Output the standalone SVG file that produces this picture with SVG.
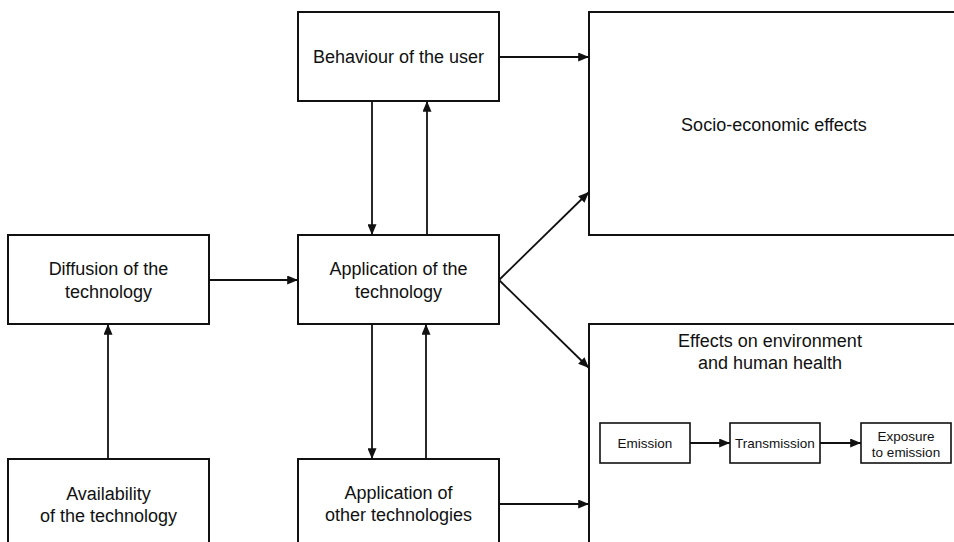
<svg xmlns="http://www.w3.org/2000/svg" width="954" height="542" viewBox="0 0 954 542">
<defs>
<style>
.box{fill:#fff;stroke:#111;stroke-width:2}
.ibox{fill:#fff;stroke:#111;stroke-width:1.6}
.t{font-family:"Liberation Sans",Arial,sans-serif;font-size:18px;fill:#111;text-anchor:middle}
.s{font-family:"Liberation Sans",Arial,sans-serif;font-size:13.5px;fill:#111;text-anchor:middle}
.c{stroke:#111;stroke-width:1.8;fill:none;marker-end:url(#ah)}
</style>
<marker id="ah" viewBox="0 0 12 10" refX="12" refY="5" markerWidth="6" markerHeight="5" markerUnits="strokeWidth" orient="auto">
<path d="M0,0 L12,5 L0,10 z" fill="#111"/>
</marker>
</defs>
<rect width="954" height="542" fill="#fff"/>
<g id="behaviour"><rect class="box" x="298" y="12" width="201" height="89"/><text class="t" x="398.5" y="63">Behaviour of the user</text></g>
<g id="socio"><rect class="box" x="589" y="12" width="380" height="223"/><text class="t" x="774" y="131">Socio-economic effects</text></g>
<g id="diffusion"><rect class="box" x="8" y="235" width="201" height="89"/><text class="t" x="108.5" y="275">Diffusion of the</text><text class="t" x="108.5" y="298">technology</text></g>
<g id="application"><rect class="box" x="298" y="235" width="201" height="89"/><text class="t" x="398.5" y="275">Application of the</text><text class="t" x="398.5" y="298">technology</text></g>
<g id="availability"><rect class="box" x="8" y="459" width="201" height="100"/><text class="t" x="108.5" y="500">Availability</text><text class="t" x="108.5" y="522">of the technology</text></g>
<g id="other"><rect class="box" x="298" y="459" width="201" height="100"/><text class="t" x="398.5" y="499">Application of</text><text class="t" x="398.5" y="521">other technologies</text></g>
<g id="effects"><rect class="box" x="589" y="324" width="380" height="240"/><text class="t" x="770" y="347">Effects on environment</text><text class="t" x="770" y="369">and human health</text></g>
<g id="emission"><rect class="ibox" x="600" y="423" width="90" height="40"/><text class="s" x="645" y="448">Emission</text></g>
<g id="transmission"><rect class="ibox" x="730" y="423" width="90" height="40"/><text class="s" x="775" y="448">Transmission</text></g>
<g id="exposure"><rect class="ibox" x="861" y="423" width="90" height="40"/><text class="s" x="906" y="441">Exposure</text><text class="s" x="906" y="457">to emission</text></g>
<g id="connectors">
<line class="c" x1="499" y1="57" x2="589" y2="57"/>
<line class="c" x1="372" y1="101" x2="372" y2="235"/>
<line class="c" x1="427" y1="235" x2="427" y2="101"/>
<line class="c" x1="209" y1="280" x2="298" y2="280"/>
<line class="c" x1="108" y1="459" x2="108" y2="324"/>
<line class="c" x1="499" y1="280" x2="589" y2="192"/>
<line class="c" x1="499" y1="280" x2="589" y2="368"/>
<line class="c" x1="372" y1="324" x2="372" y2="459"/>
<line class="c" x1="426" y1="459" x2="426" y2="324"/>
<line class="c" x1="499" y1="504" x2="589" y2="504"/>
<line class="c" x1="690" y1="443" x2="730" y2="443"/>
<line class="c" x1="820" y1="443" x2="861" y2="443"/>
</g>
</svg>
